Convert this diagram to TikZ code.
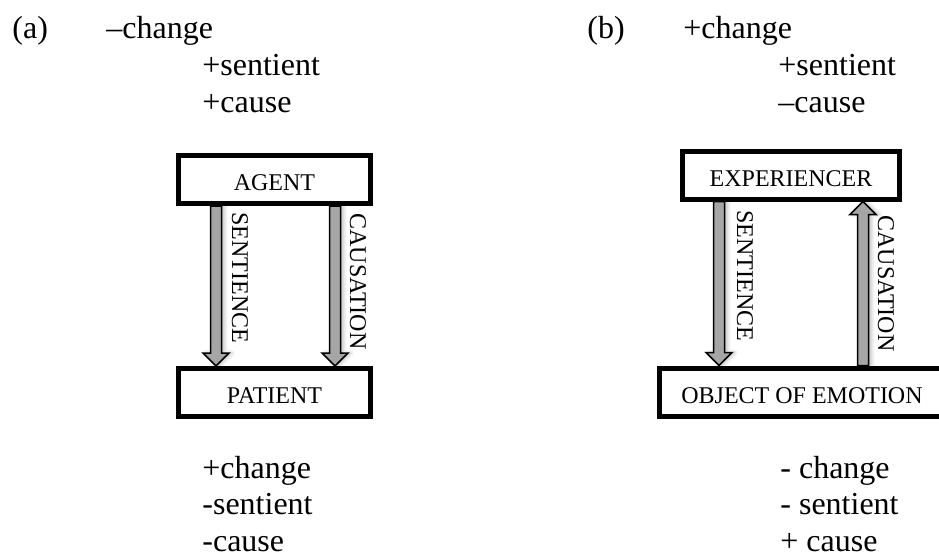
\documentclass[tikz,border=0pt]{standalone}
\usepackage{fontspec}
\setmainfont{Liberation Serif}
\usetikzlibrary{calc,shadows.blur}
\definecolor{arrowgray}{HTML}{A6A6A6}
\newcommand{\featsize}{\fontsize{16}{18}\selectfont}
\newcommand{\rolesize}{\fontsize{12}{14}\selectfont}
% block arrow: tail, tip, +1 pointing down / -1 pointing up
\newcommand{\blockarrow}[3]{%
	\draw[blockarr] let \p1=(#1), \p2=(#2) in
		(\x1-2.75pt,\y1) -- (\x2-2.75pt,{\y2+#3*6.5pt}) -- (\x2-6.5pt,{\y2+#3*6.5pt}) -- (\x2,\y2)
		-- (\x2+6.5pt,{\y2+#3*6.5pt}) -- (\x2+2.75pt,{\y2+#3*6.5pt}) -- (\x1+2.75pt,\y1) -- cycle;
}
\tikzset{
	feat/.style={anchor=base west, inner sep=0pt, font=\featsize},
	rolebox/.style={draw, line width=2.5pt, inner sep=0pt, minimum height=24pt, text height=11pt, text depth=0pt, font=\rolesize},
	vlabel/.style={rotate=-90, anchor=base west, inner sep=0pt, font=\rolesize},
	blockarr/.style={draw=black, fill=arrowgray, line width=0.75pt, line join=miter,
		blur shadow={shadow xshift=1.5pt, shadow yshift=0pt, shadow blur steps=6, shadow opacity=25}},
}

\begin{document}
\begin{tikzpicture}[x=0.5pt, y=-0.5pt]
	\useasboundingbox (0,0) rectangle (939,554);

	% (a)
	\node[feat] (lbla) at (12,38) {(a)};
	\node[feat] (chga) at (106,38) {–change};
	\node[feat] (sena) at (202,75) {+sentient};
	\node[feat] (caua) at (202,112) {+cause};

	\node[rolebox, minimum width=96pt] (agent) at (274.5,179.5) {AGENT};
	\node[rolebox, minimum width=96pt] (patient) at (274.5,392.5) {PATIENT};

	\coordinate (sa) at (216,0);
	\coordinate (ca) at (335,0);
	\blockarrow{agent.south -| sa}{patient.north -| sa}{1}
	\blockarrow{agent.south -| ca}{patient.north -| ca}{1}
	\node[vlabel] (sentla) at (232,212) {SENTIENCE};
	\node[vlabel] (causla) at (350,213) {CAUSATION};

	\node[feat] (chgp) at (202,478) {+change};
	\node[feat] (senp) at (202,514.5) {-sentient};
	\node[feat] (caup) at (202,551) {-cause};

	% (b)
	\node[feat] (lblb) at (587,38) {(b)};
	\node[feat] (chgb) at (683,38) {+change};
	\node[feat] (senb) at (778,75) {+sentient};
	\node[feat] (caub) at (778,112) {–cause};

	\node[rolebox, minimum width=108.5pt] (exper) at (791,175) {EXPERIENCER};
	\node[rolebox, minimum width=142.5pt] (object) at (802,392) {OBJECT OF EMOTION};

	\coordinate (sb) at (719,0);
	\coordinate (cb) at (863,0);
	\blockarrow{exper.south -| sb}{object.north -| sb}{1}
	\blockarrow{object.north -| cb}{exper.south -| cb}{-1}
	\node[vlabel] (sentlb) at (737,210) {SENTIENCE};
	\node[vlabel] (causlb) at (878,215) {CAUSATION};

	\node[feat] (chgo) at (780,478) {- change};
	\node[feat] (seno) at (780,514.5) {- sentient};
	\node[feat] (cauo) at (780,551) {+ cause};
\end{tikzpicture}
\end{document}
